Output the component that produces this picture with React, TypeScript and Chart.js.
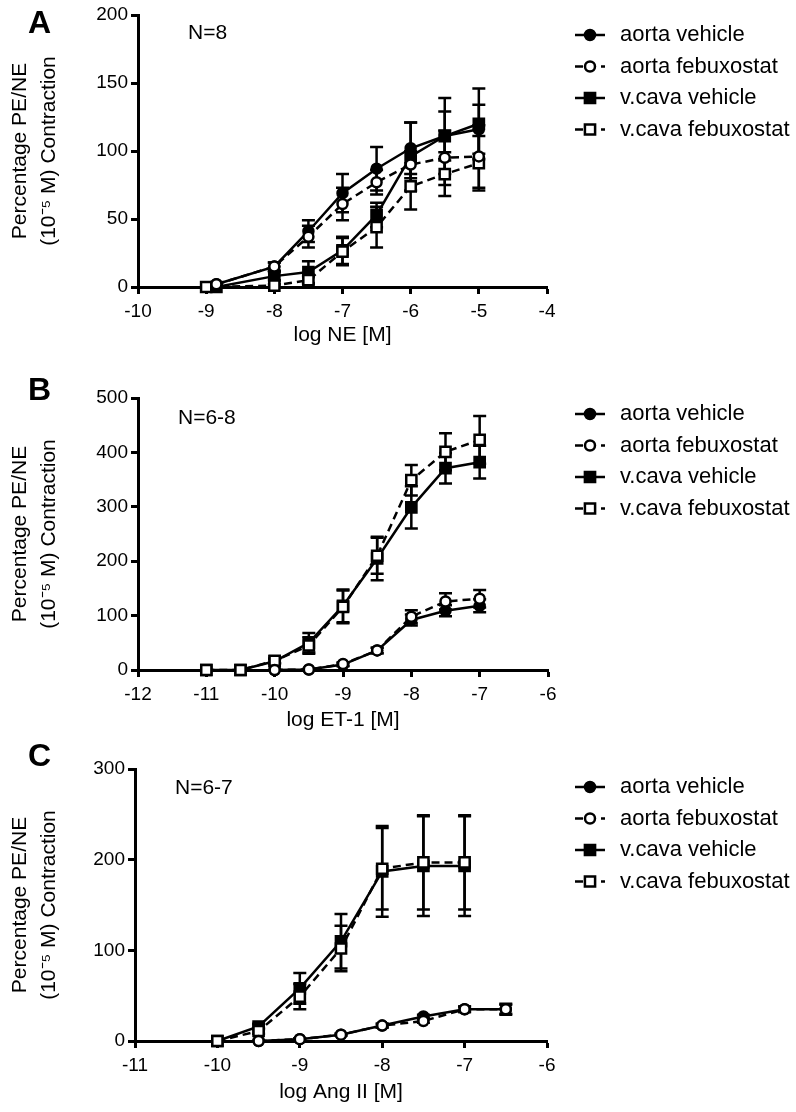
import React, { useEffect, useRef } from "react";
import { Chart, registerables } from "chart.js";

Chart.register(...registerables);

const FONT = '"Liberation Sans", Arial, Helvetica, sans-serif';

const SERIES_LABELS = ["aorta vehicle", "aorta febuxostat", "v.cava vehicle", "v.cava febuxostat"];
const Y_TITLE = ["Percentage PE/NE", "(10\u207B\u2075 M) Contraction"];

// ---------- Panel A: NE ----------
const A_X_TITLE = "log NE [M]";
const A_N = "N=8";
const A_X_AORTA = [-8.85, -8, -7.5, -7, -6.5, -6, -5.5, -5];
const A_X_VCAVA_VEH = [-8.85, -8, -7.5, -7, -6.5, -6, -5.5, -5];
const A_X_VCAVA_FEB = [-9, -8, -7.5, -7, -6.5, -6, -5.5, -5];
const A_AORTA_VEH = [2, 15, 41, 69, 87, 102, 111, 116];
const A_AORTA_VEH_SEM = [1, 3, 8, 14, 16, 19, 18, 18];
const A_AORTA_FEB = [2, 15, 37, 61, 77, 90, 95, 96];
const A_AORTA_FEB_SEM = [1, 3, 8, 12, 9, 10, 20, 23];
const A_VCAVA_VEH = [0, 8, 11, 27, 53, 96, 111, 120];
const A_VCAVA_VEH_SEM = [0, 3, 8, 10, 9, 25, 28, 26];
const A_VCAVA_FEB = [0, 1, 5, 26, 44, 74, 83, 91];
const A_VCAVA_FEB_SEM = [0, 1, 3, 10, 15, 17, 16, 20];

// ---------- Panel B: ET-1 ----------
const B_X_TITLE = "log ET-1 [M]";
const B_N = "N=6-8";
const B_X_AORTA = [-10, -9.5, -9, -8.5, -8, -7.5, -7];
const B_X_VCAVA = [-11, -10.5, -10, -9.5, -9, -8.5, -8, -7.5, -7];
const B_AORTA_VEH = [0, 1, 10, 36, 92, 109, 118];
const B_AORTA_VEH_SEM = [0, 1, 3, 5, 10, 10, 12];
const B_AORTA_FEB = [0, 1, 11, 36, 98, 126, 131];
const B_AORTA_FEB_SEM = [0, 1, 3, 5, 12, 15, 16];
const B_VCAVA_VEH = [0, 0, 16, 50, 118, 205, 299, 371, 382];
const B_VCAVA_VEH_SEM = [0, 0, 4, 18, 30, 40, 39, 28, 30];
const B_VCAVA_FEB = [0, 0, 17, 45, 116, 210, 349, 401, 423];
const B_VCAVA_FEB_SEM = [0, 0, 4, 15, 30, 33, 28, 34, 44];

// ---------- Panel C: Ang II ----------
const C_X_TITLE = "log Ang II [M]";
const C_N = "N=6-7";
const C_X_AORTA = [-9.5, -9, -8.5, -8, -7.5, -7, -6.5];
const C_X_VCAVA = [-10, -9.5, -9, -8.5, -8, -7.5, -7];
const C_AORTA_VEH = [0, 2, 7, 17, 27, 35, 35];
const C_AORTA_VEH_SEM = [0, 1, 1, 2, 2, 3, 5];
const C_AORTA_FEB = [0, 2, 7, 17, 22, 35, 35];
const C_AORTA_FEB_SEM = [0, 1, 1, 2, 2, 3, 6];
const C_VCAVA_VEH = [0, 16, 58, 110, 187, 193, 193];
const C_VCAVA_VEH_SEM = [0, 3, 17, 30, 50, 55, 55];
const C_VCAVA_FEB = [0, 11, 49, 102, 190, 197, 197];
const C_VCAVA_FEB_SEM = [0, 3, 14, 25, 45, 52, 52];

type Style = { filled: boolean; shape: "circle" | "rect"; dashed: boolean; order: number };
const STYLES: Style[] = [
  { filled: true, shape: "circle", dashed: false, order: 2 },
  { filled: false, shape: "circle", dashed: true, order: 0 },
  { filled: true, shape: "rect", dashed: false, order: 3 },
  { filled: false, shape: "rect", dashed: true, order: 1 },
];
const CIRCLE_R = 5;
const RECT_R = 7.2;
const DASH = [8, 5];

function makeDataset(i: number, xs: number[], ys: number[], sem: number[]) {
  const s = STYLES[i];
  return {
    label: SERIES_LABELS[i],
    data: xs.map((x, k) => ({ x, y: ys[k] })),
    sem,
    borderColor: "#000",
    backgroundColor: s.filled ? "#000" : "#fff",
    borderWidth: 2.5,
    borderDash: s.dashed ? DASH : [],
    pointStyle: s.shape,
    pointRadius: s.shape === "circle" ? CIRCLE_R : RECT_R,
    pointBorderWidth: 2.5,
    pointBackgroundColor: s.filled ? "#000" : "#fff",
    pointBorderColor: "#000",
    tension: 0,
    fill: false,
    clip: false,
    order: s.order,
  };
}

type Panel = {
  letter: string;
  nLabel: string;
  xTitle: string;
  xMin: number;
  xMax: number;
  yMax: number;
  yStep: number;
  datasets: any[];
  top: number;
  height: number;
  chartTop: number;
  chartBottom: number;
  yWidth: number;
  right: number;
  legendY: number;
  letterY: number;
  nX: number;
  nY: number;
  xTitleY: number;
};

const PANELS: Panel[] = [
  {
    letter: "A", nLabel: A_N, xTitle: A_X_TITLE, xMin: -10, xMax: -4, yMax: 200, yStep: 50,
    datasets: [
      makeDataset(0, A_X_AORTA, A_AORTA_VEH, A_AORTA_VEH_SEM),
      makeDataset(1, A_X_AORTA, A_AORTA_FEB, A_AORTA_FEB_SEM),
      makeDataset(2, A_X_VCAVA_VEH, A_VCAVA_VEH, A_VCAVA_VEH_SEM),
      makeDataset(3, A_X_VCAVA_FEB, A_VCAVA_FEB, A_VCAVA_FEB_SEM),
    ],
    top: 0, height: 370, chartTop: 15, chartBottom: 287, yWidth: 138, right: 547,
    legendY: 35, letterY: 24, nX: 188, nY: 33, xTitleY: 335,
  },
  {
    letter: "B", nLabel: B_N, xTitle: B_X_TITLE, xMin: -12, xMax: -6, yMax: 500, yStep: 100,
    datasets: [
      makeDataset(0, B_X_AORTA, B_AORTA_VEH, B_AORTA_VEH_SEM),
      makeDataset(1, B_X_AORTA, B_AORTA_FEB, B_AORTA_FEB_SEM),
      makeDataset(2, B_X_VCAVA, B_VCAVA_VEH, B_VCAVA_VEH_SEM),
      makeDataset(3, B_X_VCAVA, B_VCAVA_FEB, B_VCAVA_FEB_SEM),
    ],
    top: 370, height: 370, chartTop: 28, chartBottom: 300, yWidth: 138, right: 548,
    legendY: 44, letterY: 21.5, nX: 178, nY: 48, xTitleY: 350,
  },
  {
    letter: "C", nLabel: C_N, xTitle: C_X_TITLE, xMin: -11, xMax: -6, yMax: 300, yStep: 100,
    datasets: [
      makeDataset(0, C_X_AORTA, C_AORTA_VEH, C_AORTA_VEH_SEM),
      makeDataset(1, C_X_AORTA, C_AORTA_FEB, C_AORTA_FEB_SEM),
      makeDataset(2, C_X_VCAVA, C_VCAVA_VEH, C_VCAVA_VEH_SEM),
      makeDataset(3, C_X_VCAVA, C_VCAVA_FEB, C_VCAVA_FEB_SEM),
    ],
    top: 740, height: 372, chartTop: 29, chartBottom: 301, yWidth: 135, right: 547,
    legendY: 47, letterY: 17, nX: 175, nY: 48, xTitleY: 352,
  },
];

const WIDTH = 796;

function drawMarker(ctx: CanvasRenderingContext2D, s: Style, x: number, y: number) {
  ctx.save();
  ctx.setLineDash([]);
  ctx.lineWidth = 2.5;
  ctx.strokeStyle = "#000";
  ctx.fillStyle = s.filled ? "#000" : "#fff";
  ctx.beginPath();
  if (s.shape === "circle") {
    ctx.arc(x, y, CIRCLE_R, 0, Math.PI * 2);
  } else {
    const h = Math.SQRT1_2 * RECT_R;
    ctx.rect(x - h, y - h, 2 * h, 2 * h);
  }
  ctx.fill();
  ctx.stroke();
  ctx.restore();
}

function makePlugin(p: Panel) {
  return {
    id: "panelDecor",
    beforeDatasetsDraw(chart: any) {
      const ctx: CanvasRenderingContext2D = chart.ctx;
      const xs = chart.scales.x;
      const ys = chart.scales.y;
      ctx.save();
      ctx.strokeStyle = "#000";
      ctx.lineWidth = 2.5;
      ctx.setLineDash([]);
      chart.data.datasets.forEach((ds: any) => {
        ds.data.forEach((pt: any, k: number) => {
          const e = ds.sem[k];
          if (!e) return;
          const px = xs.getPixelForValue(pt.x);
          const y1 = ys.getPixelForValue(pt.y + e);
          const y2 = ys.getPixelForValue(pt.y - e);
          ctx.beginPath();
          ctx.moveTo(px, y1);
          ctx.lineTo(px, y2);
          ctx.moveTo(px - 6.5, y1);
          ctx.lineTo(px + 6.5, y1);
          ctx.moveTo(px - 6.5, y2);
          ctx.lineTo(px + 6.5, y2);
          ctx.stroke();
        });
      });
      ctx.restore();
    },
    afterDraw(chart: any) {
      const ctx: CanvasRenderingContext2D = chart.ctx;
      ctx.save();
      ctx.fillStyle = "#000";
      ctx.textBaseline = "middle";
      ctx.textAlign = "left";
      ctx.font = `bold 32px ${FONT}`;
      ctx.fillText(p.letter, 28, p.letterY);
      ctx.font = `21px ${FONT}`;
      ctx.fillText(p.nLabel, p.nX, p.nY);
      SERIES_LABELS.forEach((label, i) => {
        const s = STYLES[i];
        const y = p.legendY + i * 31.5;
        ctx.save();
        ctx.strokeStyle = "#000";
        ctx.lineWidth = 2.5;
        ctx.setLineDash(s.dashed ? DASH : []);
        ctx.beginPath();
        ctx.moveTo(575, y);
        ctx.lineTo(605, y);
        ctx.stroke();
        ctx.restore();
        drawMarker(ctx, s, 590, y);
        ctx.fillStyle = "#000";
        ctx.font = `22px ${FONT}`;
        ctx.textBaseline = "middle";
        ctx.fillText(label, 620, y);
      });
      ctx.restore();
    },
  };
}

function PanelChart({ p }: { p: Panel }) {
  const ref = useRef<HTMLCanvasElement | null>(null);
  useEffect(() => {
    if (!ref.current) return;
    const titleLH = 1.2;
    const xTitlePadBottom = p.height - p.xTitleY - (21 * titleLH) / 2;
    const chart = new Chart(ref.current, {
      type: "line",
      data: { datasets: p.datasets.map((d) => ({ ...d })) },
      options: {
        responsive: false,
        animation: false,
        events: [],
        layout: { padding: { top: p.chartTop, right: WIDTH - p.right, left: 0, bottom: 0 } },
        plugins: { legend: { display: false }, tooltip: { enabled: false }, title: { display: false } },
        scales: {
          x: {
            type: "linear",
            position: "bottom",
            min: p.xMin,
            max: p.xMax,
            ticks: {
              stepSize: 1,
              autoSkip: false,
              maxRotation: 0,
              padding: 6,
              color: "#000",
              font: { family: FONT, size: 19 },
            },
            grid: {
              display: true,
              drawOnChartArea: false,
              drawTicks: true,
              tickLength: 7,
              tickWidth: 3,
              tickColor: "#000",
            },
            border: { display: true, width: 3, color: "#000" },
            title: {
              display: true,
              text: p.xTitle,
              color: "#000",
              font: { family: FONT, size: 21, lineHeight: titleLH },
              padding: { top: 0, bottom: xTitlePadBottom },
            },
            afterFit: (s: any) => {
              s.height = p.height - p.chartBottom;
            },
          },
          y: {
            type: "linear",
            position: "left",
            min: 0,
            max: p.yMax,
            ticks: {
              stepSize: p.yStep,
              padding: 3,
              color: "#000",
              font: { family: FONT, size: 19 },
            },
            grid: {
              display: true,
              drawOnChartArea: false,
              drawTicks: true,
              tickLength: 7,
              tickWidth: 3,
              tickColor: "#000",
            },
            border: { display: true, width: 3, color: "#000" },
            title: {
              display: true,
              text: Y_TITLE,
              color: "#000",
              font: { family: FONT, size: 21, lineHeight: 29 / 21 },
              padding: { top: 5.5, bottom: 0 },
            },
            afterFit: (s: any) => {
              s.width = p.yWidth;
            },
          },
        },
      } as any,
      plugins: [makePlugin(p)],
    });
    return () => chart.destroy();
  }, [p]);
  return (
    <canvas
      ref={ref}
      width={WIDTH}
      height={p.height}
      style={{ position: "absolute", left: 0, top: p.top, width: WIDTH, height: p.height }}
    />
  );
}

export default function App() {
  return (
    <div style={{ position: "absolute", left: 0, top: 0, width: WIDTH, height: 1112, background: "#fff" }}>
      {PANELS.map((p) => (
        <PanelChart key={p.letter} p={p} />
      ))}
    </div>
  );
}
